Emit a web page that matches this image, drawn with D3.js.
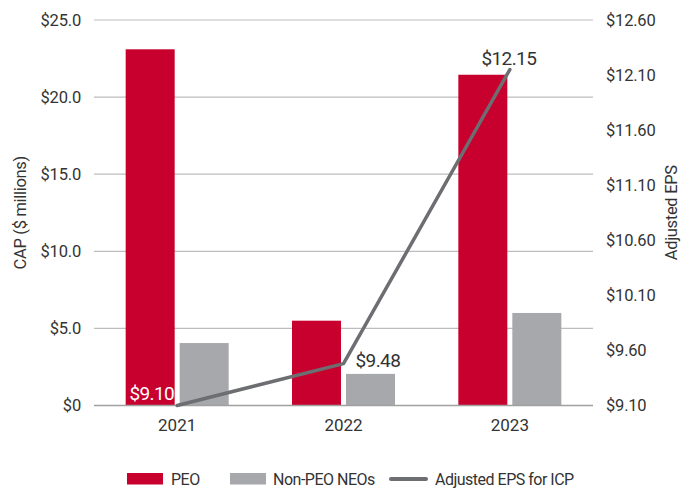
<!DOCTYPE html>
<html>
<head>
<meta charset="utf-8">
<script src="https://cdn.jsdelivr.net/npm/d3@7/dist/d3.min.js"></script>
<style>
  body { margin: 0; background: #fff; }
  svg { display: block; font-family: Roboto, "Noto Sans", sans-serif; }
</style>
</head>
<body>
<svg id="chart" width="692" height="490"></svg>
<script>
const years = ["2021", "2022", "2023"];
const peo = [23.1, 5.5, 21.45];
const nonPeo = [4.05, 2.05, 6.0];
const eps = [9.10, 9.48, 12.15];
const epsLabels = ["$9.10", "$9.48", "$12.15"];
const leftTicks = [0, 5, 10, 15, 20, 25];
const leftTickLabels = ["$0", "$5.0", "$10.0", "$15.0", "$20.0", "$25.0"];
const rightTicks = [9.10, 9.60, 10.10, 10.60, 11.10, 11.60, 12.10, 12.60];
const rightTickLabels = ["$9.10", "$9.60", "$10.10", "$10.60", "$11.10", "$11.60", "$12.10", "$12.60"];
const seriesNames = ["PEO", "Non-PEO NEOs", "Adjusted EPS for ICP"];

const RED = "#c8002e", GRAY = "#a7a8ab", LINE = "#6d6e71", TEXT = "#333333";
const svg = d3.select("#chart");
const m = { left: 94, right: 593, top: 20, bottom: 405.5 };

const x = d3.scaleBand().domain(years).range([m.left, m.right]).paddingInner(0).paddingOuter(0);
const yL = d3.scaleLinear().domain([0, 25]).range([m.bottom, m.top]);
const yR = d3.scaleLinear().domain([9.10, 12.60]).range([m.bottom, m.top]);
const barW = 49, gap = 5;
const inner = d3.scaleOrdinal().domain(["peo", "non"]).range([-(barW + gap / 2), gap / 2]);

// gridlines
svg.append("g").selectAll("line").data(leftTicks).join("line")
  .attr("x1", m.left).attr("x2", m.right)
  .attr("y1", d => yL(d)).attr("y2", d => yL(d))
  .attr("stroke", "#bdbdbd").attr("stroke-width", 1.2);

// left axis
const la = svg.append("g").attr("transform", `translate(${m.left - 10},0)`)
  .call(d3.axisLeft(yL).tickValues(leftTicks).tickSize(0).tickFormat((d, i) => leftTickLabels[i]));
la.select(".domain").remove();
la.selectAll("text").attr("font-size", 16.5).attr("fill", TEXT).attr("font-family", "Roboto")
  .attr("letter-spacing", "-0.2px");

// right axis
const ra = svg.append("g").attr("transform", `translate(${m.right + 10},0)`)
  .call(d3.axisRight(yR).tickValues(rightTicks).tickSize(0).tickFormat((d, i) => rightTickLabels[i]));
ra.select(".domain").remove();
ra.selectAll("text").attr("font-size", 16.5).attr("fill", TEXT).attr("font-family", "Roboto")
  .attr("letter-spacing", "-0.2px");

// bars
const g = svg.append("g");
g.selectAll("rect.peo").data(years).join("rect").attr("class", "peo")
  .attr("x", d => x(d) + x.bandwidth() / 2 + inner("peo")).attr("width", barW)
  .attr("y", (d, i) => yL(peo[i])).attr("height", (d, i) => yL(0) - yL(peo[i]))
  .attr("fill", RED);
g.selectAll("rect.non").data(years).join("rect").attr("class", "non")
  .attr("x", d => x(d) + x.bandwidth() / 2 + inner("non")).attr("width", barW)
  .attr("y", (d, i) => yL(nonPeo[i])).attr("height", (d, i) => yL(0) - yL(nonPeo[i]))
  .attr("fill", GRAY);

// baseline
svg.append("line").attr("x1", m.left).attr("x2", m.right)
  .attr("y1", yL(0)).attr("y2", yL(0)).attr("stroke", "#a0a0a0").attr("stroke-width", 1.5);

// x axis labels
const xa = svg.append("g").attr("transform", `translate(0,${m.bottom})`)
  .call(d3.axisBottom(x).tickSize(0));
xa.select(".domain").remove();
xa.selectAll("text").attr("font-size", 17).attr("fill", TEXT).attr("font-family", "Roboto").attr("dy", "1.3em");

// EPS line
const line = d3.line().x((d, i) => x(years[i]) + x.bandwidth() / 2).y(d => yR(d));
svg.append("path").datum(eps).attr("d", line)
  .attr("fill", "none").attr("stroke", LINE).attr("stroke-width", 3.5)
  .attr("stroke-linejoin", "round").attr("stroke-linecap", "round");

// EPS labels
const lblPos = [
  { dx: -3, dy: -6, anchor: "end", fill: "#ffffff" },
  { dx: 12, dy: 3, anchor: "start", fill: TEXT },
  { dx: -1, dy: -5, anchor: "middle", fill: TEXT }
];
svg.append("g").selectAll("text").data(eps).join("text")
  .attr("x", (d, i) => x(years[i]) + x.bandwidth() / 2 + lblPos[i].dx)
  .attr("y", (d, i) => yR(d) + lblPos[i].dy)
  .attr("text-anchor", (d, i) => lblPos[i].anchor)
  .attr("fill", (d, i) => lblPos[i].fill)
  .attr("font-size", 19).attr("letter-spacing", "-0.6px")
  .text((d, i) => epsLabels[i]);

// axis titles
svg.append("text").attr("transform", `translate(26,${(m.top + m.bottom) / 2}) rotate(-90)`)
  .attr("text-anchor", "middle").attr("font-size", 16.5).attr("fill", TEXT)
  .attr("letter-spacing", "-0.3px")
  .text("CAP ($ millions)");
svg.append("text").attr("transform", `translate(677,${(m.top + m.bottom) / 2}) rotate(-90)`)
  .attr("text-anchor", "middle").attr("font-size", 16.5).attr("fill", TEXT)
  .attr("letter-spacing", "-0.3px")
  .text("Adjusted EPS");

// legend
const lg = svg.append("g").attr("font-size", 16).attr("fill", TEXT).attr("letter-spacing", "-0.5px");
lg.append("rect").attr("x", 127).attr("y", 473).attr("width", 36).attr("height", 11.5).attr("fill", RED);
lg.append("text").attr("x", 171).attr("y", 485).text(seriesNames[0]);
lg.append("rect").attr("x", 230).attr("y", 473).attr("width", 36).attr("height", 11.5).attr("fill", GRAY);
lg.append("text").attr("x", 273).attr("y", 485).text(seriesNames[1]);
lg.append("line").attr("x1", 391).attr("x2", 426).attr("y1", 479).attr("y2", 479)
  .attr("stroke", LINE).attr("stroke-width", 4).attr("stroke-linecap", "round");
lg.append("text").attr("x", 435).attr("y", 485).text(seriesNames[2]);
</script>
</body>
</html>
